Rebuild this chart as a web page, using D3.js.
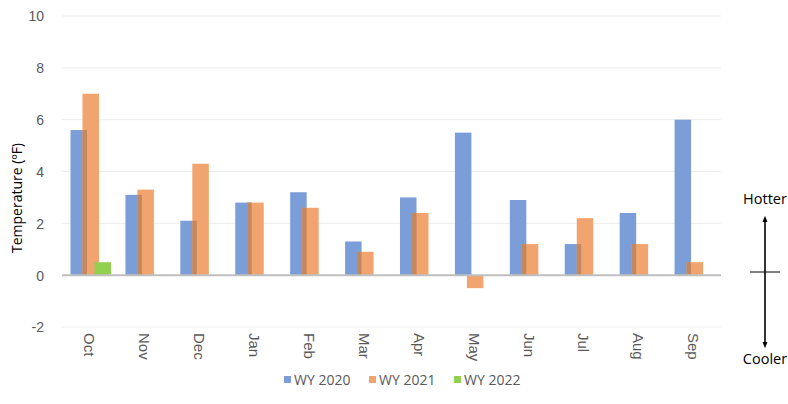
<!DOCTYPE html>
<html>
<head>
<meta charset="utf-8">
<script src="https://cdn.jsdelivr.net/npm/d3@7"></script>
<style>
  body { margin: 0; background: #fff; }
  svg { font-family: "Open Sans", sans-serif; }
  .tick text { fill: #595959; }
</style>
</head>
<body>
<svg id="chart" width="788" height="404"></svg>
<script>
const months = ['Oct', 'Nov', 'Dec', 'Jan', 'Feb', 'Mar', 'Apr', 'May', 'Jun', 'Jul', 'Aug', 'Sep']
const wy2020 = [5.6, 3.1, 2.1, 2.8, 3.2, 1.3, 3.0, 5.5, 2.9, 1.2, 2.4, 6.0]
const wy2021 = [7.0, 3.3, 4.3, 2.8, 2.6, 0.9, 2.4, -0.5, 1.2, 2.2, 1.2, 0.5]
const wy2022 = [0.5]
const seriesNames = ['WY 2020', 'WY 2021', 'WY 2022']
const colors = ['#7b9ed8', '#f2a46e', '#92d050']
const yTicks = [-2, 0, 2, 4, 6, 8, 10]

const plotLeft = 62, plotRight = 721, plotTop = 16, plotBottom = 327

const svg = d3.select('#chart')

const x = d3.scaleBand().domain(months).range([plotLeft, plotRight])
const y = d3.scaleLinear().domain([-2, 10]).range([plotBottom, plotTop])

// grid
svg.append('g').selectAll('line').data(yTicks.filter(d => d !== 0)).join('line')
  .attr('x1', plotLeft).attr('x2', plotRight)
  .attr('y1', d => y(d)).attr('y2', d => y(d))
  .attr('stroke', '#ececec').attr('stroke-width', 1)

// y axis labels
const gy = svg.append('g').attr('transform', `translate(${plotLeft - 15},0)`)
  .call(d3.axisLeft(y).tickValues(yTicks).tickSize(0).tickFormat(d => String(d)))
gy.select('.domain').remove()
gy.selectAll('text').style('font-size', '14px').attr('dy', '0.35em')

svg.append('text')
  .attr('transform', `translate(22,198) rotate(-90)`)
  .attr('text-anchor', 'middle')
  .style('font-size', '14px').attr('fill', '#000')
  .text('Temperature (ºF)')

const barW = 16.5, step = 12
const offset = 8.5
const series = [wy2020, wy2021, wy2022]

series.forEach((vals, si) => {
  svg.append('g').selectAll('rect').data(vals).join('rect')
    .attr('x', (d, i) => x(months[i]) + offset + si * step)
    .attr('y', d => y(Math.max(0, d)))
    .attr('width', barW)
    .attr('height', d => Math.abs(y(d) - y(0)))
    .attr('fill', colors[si])
})

// darker overlap where WY 2021 bar lies over WY 2020 bar
svg.append('g').selectAll('rect').data(months).join('rect')
  .attr('x', m => x(m) + offset + step)
  .attr('y', (m, i) => y(Math.max(0, Math.min(wy2020[i], wy2021[i]))))
  .attr('width', barW - step)
  .attr('height', (m, i) => wy2021[i] > 0 ? y(0) - y(Math.min(wy2020[i], wy2021[i])) : 0)
  .attr('fill', '#c4885f')

// zero line
svg.append('line')
  .attr('x1', plotLeft).attr('x2', plotRight)
  .attr('y1', y(0)).attr('y2', y(0))
  .attr('stroke', '#bfbfbf').attr('stroke-width', 2)

// x labels
const gx = svg.append('g').attr('transform', `translate(0,${plotBottom + 6})`)
  .call(d3.axisBottom(x).tickSize(0))
gx.select('.domain').remove()
gx.selectAll('text')
  .style('font-size', '15px')
  .attr('text-anchor', 'start')
  .attr('transform', 'rotate(90)')
  .attr('x', 0).attr('y', 0).attr('dy', '0.35em').attr('dx', 0)

// legend
const legendX = [284, 369, 454]
const lg = svg.append('g')
seriesNames.forEach((name, i) => {
  lg.append('rect').attr('x', legendX[i]).attr('y', 376).attr('width', 7).attr('height', 7).attr('fill', colors[i])
  lg.append('text').attr('x', legendX[i] + 10).attr('y', 384.5)
    .style('font-size', '14px').attr('fill', '#595959').text(name)
})

// hotter / cooler indicator
svg.append('defs').append('marker')
  .attr('id', 'ah').attr('viewBox', '0 0 10 10').attr('refX', 5).attr('refY', 5)
  .attr('markerWidth', 4).attr('markerHeight', 5).attr('orient', 'auto-start-reverse')
  .append('path').attr('d', 'M0,1L10,5L0,9z').attr('fill', '#000')
const ax = 765
svg.append('line').attr('x1', ax).attr('x2', ax).attr('y1', 219).attr('y2', 345)
  .attr('stroke', '#000').attr('stroke-width', 1.6)
  .attr('marker-start', 'url(#ah)').attr('marker-end', 'url(#ah)')
svg.append('line').attr('x1', 750).attr('x2', 780).attr('y1', 272).attr('y2', 272)
  .attr('stroke', '#000').attr('stroke-width', 1)
svg.append('text').attr('x', ax).attr('y', 204).attr('text-anchor', 'middle')
  .style('font-size', '14.5px').text('Hotter')
svg.append('text').attr('x', ax).attr('y', 364).attr('text-anchor', 'middle')
  .style('font-size', '14.5px').text('Cooler')
</script>
</body>
</html>
